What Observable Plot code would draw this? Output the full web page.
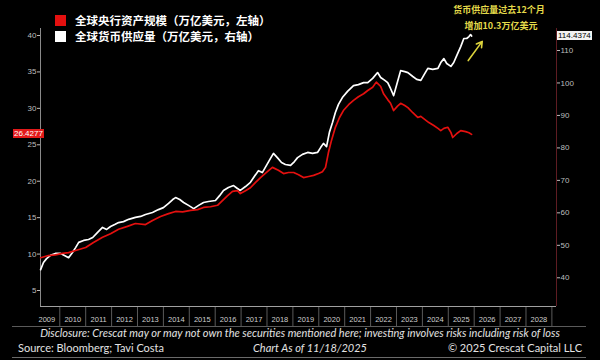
<!DOCTYPE html>
<html><head><meta charset="utf-8">
<script src="https://cdn.jsdelivr.net/npm/d3@7"></script>
<script src="https://cdn.jsdelivr.net/npm/@observablehq/plot@0.6"></script>
<style>
html,body{margin:0;padding:0;background:#000;}
#wrap{position:relative;width:600px;height:360px;background:#000;overflow:hidden;font-family:"Noto Sans CJK SC",sans-serif;}
#wrap svg{position:absolute;left:0;top:0;}
.abs{position:absolute;white-space:nowrap;}
.leg{left:75px;font-size:11.5px;font-weight:bold;color:#fff;line-height:14px;}
.sw{position:absolute;left:55px;width:11px;height:11px;}
.ann{color:#e4da4a;font-size:9px;font-weight:bold;line-height:12px;text-align:center;width:120px;}
.foot{font-family:Lato,"Liberation Sans",sans-serif;color:#e2e2e2;font-size:11px;line-height:13px;}
.box{font-family:"Liberation Sans",sans-serif;font-size:8px;line-height:9px;height:9px;padding:0 1px;}
</style></head><body><div id="wrap"></div><script>
// Global central bank assets (trillion USD, left axis)
const cbYear = [2009.26,2009.56,2009.83,2010.1,2010.34,2010.61,2011.0,2011.3,2011.65,2011.96,2012.27,2012.61,2012.92,2013.31,2013.58,2013.89,2014.2,2014.47,2014.74,2015.05,2015.32,2015.55,2015.82,2016.09,2016.28,2016.47,2016.67,2016.86,2016.97,2017.17,2017.36,2017.55,2017.75,2017.98,2018.21,2018.44,2018.64,2018.83,2019.03,2019.22,2019.41,2019.61,2019.8,2019.99,2020.14,2020.26,2020.37,2020.49,2020.64,2020.8,2020.95,2021.15,2021.34,2021.53,2021.73,2021.89,2022.08,2022.22,2022.39,2022.5,2022.66,2022.77,2022.89,2023.04,2023.16,2023.32,2023.44,2023.63,2023.82,2023.94,2024.05,2024.25,2024.44,2024.6,2024.71,2024.83,2024.98,2025.1,2025.17,2025.33,2025.48,2025.67,2025.8,2025.9];
const cbValue = [9.5,9.8,9.9,10.1,10.2,10.5,10.9,11.6,12.3,12.8,13.4,13.8,14.2,14.05,14.6,15.15,15.55,15.85,15.8,16.0,16.1,16.4,16.5,16.7,17.35,18.0,18.6,18.7,18.3,18.7,19.1,19.8,20.5,21.2,21.9,21.5,21.05,21.2,21.2,20.9,20.5,20.65,20.8,21.05,21.3,21.9,23.9,25.6,27.4,28.75,29.7,30.5,31.1,31.6,32.0,32.45,32.9,33.6,33.0,32.0,31.2,30.7,29.7,30.3,30.7,30.4,30.1,29.4,28.75,28.9,28.6,28.05,27.65,27.25,26.95,27.25,27.4,26.7,26.0,26.55,26.95,26.8,26.65,26.43];
// Global money supply (trillion USD, right axis)
const msYear = [2009.26,2009.37,2009.49,2009.64,2009.83,2010.03,2010.18,2010.34,2010.49,2010.61,2010.73,2010.92,2011.11,2011.27,2011.46,2011.65,2011.81,2011.96,2012.12,2012.27,2012.46,2012.66,2012.92,2013.12,2013.31,2013.58,2013.81,2014.0,2014.2,2014.36,2014.47,2014.63,2014.78,2014.97,2015.17,2015.36,2015.55,2015.74,2016.01,2016.17,2016.32,2016.51,2016.71,2016.86,2016.97,2017.17,2017.36,2017.51,2017.67,2017.82,2017.98,2018.13,2018.25,2018.4,2018.56,2018.71,2018.91,2019.06,2019.18,2019.37,2019.57,2019.76,2019.95,2020.07,2020.18,2020.3,2020.41,2020.53,2020.64,2020.76,2020.91,2021.11,2021.34,2021.53,2021.73,2021.89,2022.08,2022.27,2022.39,2022.55,2022.66,2022.77,2022.89,2023.01,2023.16,2023.32,2023.44,2023.63,2023.78,2023.94,2024.09,2024.21,2024.4,2024.6,2024.71,2024.83,2024.94,2025.1,2025.21,2025.33,2025.48,2025.6,2025.71,2025.8,2025.86,2025.9];
const msValue = [42.5,44.7,45.9,46.9,47.5,47.5,46.9,46.2,47.8,49.3,50.9,51.5,51.8,52.4,54.0,55.5,54.9,55.8,56.4,57.0,57.3,58.0,58.6,58.9,59.5,60.1,61.0,61.6,62.9,64.1,64.7,64.1,63.2,62.3,61.3,62.3,63.2,63.5,63.8,65.3,66.9,67.8,68.4,67.5,66.9,68.1,69.4,71.2,73.0,72.4,74.6,76.7,78.3,77.0,75.5,74.9,74.6,75.8,77.0,78.0,78.6,78.3,78.6,80.1,81.4,80.4,84.8,87.8,90.9,93.4,95.5,97.4,99.2,99.5,100.1,100.1,101.4,103.2,101.7,100.8,100.1,98.3,96.1,99.5,103.8,103.5,103.2,102.0,101.1,100.8,102.9,104.5,104.2,104.5,106.3,107.5,106.0,105.1,106.3,108.5,111.2,113.7,113.7,114.3,114.9,114.44];
const yearLabels = [2009,2010,2011,2012,2013,2014,2015,2016,2017,2018,2019,2020,2021,2022,2023,2024,2025,2026,2027,2028];
const leftTicks = [5,10,15,20,25,30,35,40];
const rightTicks = [40,50,60,70,80,90,100,110];
const cbLast = "26.4277", msLast = "114.4374";
const legendLabels = ["全球央行资产规模（万亿美元，左轴）","全球货币供应量（万亿美元，右轴）"];
const noteLines = ["货币供应量过去12个月","增加10.3万亿美元"];
const arrowPt = {x1:2025.77, r1:106.9, x2:2026.31, r2:112.8};

// right axis (money supply) expressed in left-axis units
const toLeft = r => -11.08 + 0.44565*r;
const toRight = l => (l + 11.08)/0.44565;

const cb = cbYear.map((t,i)=>({t, v:cbValue[i]}));
const ms = msYear.map((t,i)=>({t, v:toLeft(msValue[i])}));
const xDom = [2009.255, 2029.178], yDom = [2.806, 40.96];

const plot = Plot.plot({
  width:600, height:360, marginLeft:40, marginRight:44, marginTop:28, marginBottom:54,
  style:{background:"transparent", color:"#c4c4c4", fontFamily:"Liberation Sans, sans-serif", fontSize:"8px"},
  x:{domain:xDom}, y:{domain:yDom},
  marks:[
    Plot.ruleX([xDom[0]], {stroke:"#8a8a8a"}),
    Plot.ruleX([xDom[1]], {stroke:"#5e1c22"}),
    Plot.axisY(leftTicks, {anchor:"left", tickSize:3, tickPadding:1, label:null, color:"#bdbdbd"}),
    Plot.axisY(rightTicks.map(toLeft), {anchor:"right", tickSize:3, tickPadding:1, label:null, color:"#bdbdbd", tickFormat:d=>String(Math.round(toRight(d)))}),
    Plot.axisX(yearLabels.map(y=>y+1), {tickSize:20, tickFormat:()=>"", label:null, stroke:"#5a5a5a"}),
    Plot.axisX(yearLabels.map(y=>y+0.5), {tickSize:0, tickPadding:10, label:null, fontSize:7.5, color:"#cfcfcf", tickFormat:d=>String(Math.floor(d))}),
    Plot.ruleY([yDom[0]], {stroke:"#a0a0a0"}),
    Plot.line(ms, {x:"t", y:"v", stroke:"#ffffff", strokeWidth:1.7}),
    Plot.line(cb, {x:"t", y:"v", stroke:"#e4100f", strokeWidth:1.7}),
    Plot.arrow([arrowPt], {x1:"x1", x2:"x2", y1:d=>toLeft(d.r1), y2:d=>toLeft(d.r2), stroke:"#dcd33c", strokeWidth:1.6, headLength:6, bend:0})
  ]
});
const wrap = document.getElementById("wrap");
wrap.appendChild(plot);
const ys = plot.scale("y");

function add(html, cls, css){const d=document.createElement("div");d.className="abs "+cls;d.innerHTML=html;Object.assign(d.style,css);wrap.appendChild(d);return d;}
// legend
add("", "sw", {top:"15px", background:"#e4100f"});
add("", "sw", {top:"31px", background:"#ffffff"});
add(legendLabels[0], "leg", {top:"13px"});
add(legendLabels[1], "leg", {top:"29px"});
// annotation
add(noteLines[0], "ann", {left:"439px", top:"4px"});
add(noteLines[1], "ann", {left:"441px", top:"20px"});
// last value boxes
const yCb = ys.apply(cbValue[cbValue.length-1]);
const yMs = ys.apply(toLeft(msValue[msValue.length-1]));
add(cbLast, "box", {left:"13px", top:(yCb-4.5)+"px", background:"#e21a1a", color:"#fff"});
add(msLast, "box", {left:"557px", top:(yMs-4.5)+"px", background:"#f2f2f2", color:"#000"});
// footer
add("", "", {left:"12px", top:"326px", width:"574px", height:"1px", background:"#5a5a5a"});
add("Disclosure: Crescat may or may not own the securities mentioned here; investing involves risks including risk of loss", "foot", {left:"0px", width:"600px", textAlign:"center", top:"326px", fontStyle:"italic"});
add("Source: Bloomberg; Tavi Costa", "foot", {left:"18px", top:"341px"});
add("Chart As of 11/18/2025", "foot", {left:"210px", width:"200px", textAlign:"center", top:"341px", fontStyle:"italic"});
add("© 2025 Crescat Capital LLC", "foot", {right:"18px", top:"341px"});
add("", "", {left:"12px", top:"357px", width:"574px", height:"1px", background:"#6a6a6a"});
</script></body></html>
